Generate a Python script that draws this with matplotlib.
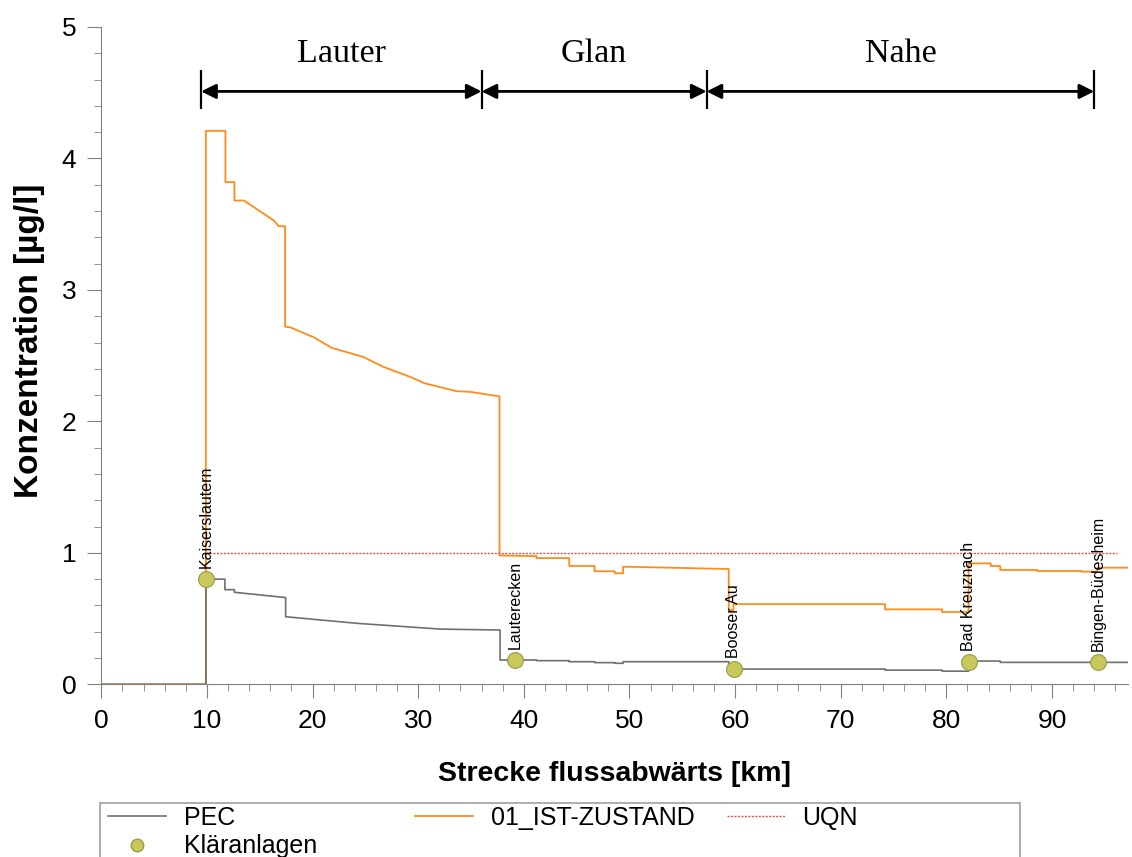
import matplotlib
matplotlib.use("Agg")
import matplotlib.pyplot as plt
from matplotlib.lines import Line2D
from matplotlib.patches import Rectangle

plt.rcParams["font.family"] = ["Liberation Sans", "DejaVu Sans"]

# PEC profile along the river (km, µg/l)
pec_km = [0, 9.9, 9.9, 11.7, 11.7, 12.6, 12.6, 17.45, 17.45, 24.2, 32.1, 37.75,
          37.75, 41.2, 41.2, 44.3, 44.3, 46.7, 46.7, 48.6, 48.6, 49.4, 49.4, 59.4,
          59.4, 74.2, 74.2, 79.6, 79.6, 82.1, 82.1, 85.1, 85.1, 97.2]
pec_val = [0, 0, 0.80, 0.80, 0.72, 0.72, 0.70, 0.66, 0.514, 0.464, 0.42, 0.413,
           0.185, 0.185, 0.18, 0.18, 0.172, 0.172, 0.165, 0.165, 0.16, 0.16, 0.172, 0.172,
           0.116, 0.116, 0.108, 0.108, 0.10, 0.10, 0.177, 0.177, 0.167, 0.167]

# scenario 01_IST-ZUSTAND
ist_km = [0, 9.9, 9.9, 11.75, 11.75, 12.6, 12.6, 13.5, 16.3, 16.8, 17.4, 17.4,
          17.9, 20.1, 21.8, 24.8, 26.7, 29.5, 30.6, 33.6, 34.9, 37.7, 37.7, 41.2,
          41.2, 44.3, 44.3, 46.7, 46.7, 48.6, 48.6, 49.4, 49.4, 59.4, 59.4, 59.85,
          59.85, 74.2, 74.2, 79.6, 79.6, 82.1, 82.1, 84.2, 84.2, 85.1, 85.1, 88.6,
          88.6, 92.8, 92.8, 94.3, 94.3, 97.2]
ist_val = [0, 0, 4.21, 4.21, 3.82, 3.82, 3.68, 3.68, 3.53, 3.485, 3.485, 2.72,
           2.715, 2.64, 2.56, 2.49, 2.415, 2.33, 2.29, 2.23, 2.225, 2.19, 0.98, 0.975,
           0.96, 0.96, 0.90, 0.90, 0.86, 0.86, 0.845, 0.845, 0.895, 0.877, 0.565, 0.565,
           0.61, 0.61, 0.57, 0.57, 0.55, 0.55, 0.92, 0.92, 0.90, 0.90, 0.87, 0.87,
           0.862, 0.862, 0.857, 0.857, 0.887, 0.887]

# environmental quality standard
uqn_km = [9.9, 96.2]
uqn_val = [1.0, 1.0]

# sewage treatment plants
ka_names = ["Kaiserslautern", "Lauterecken", "Booser Au", "Bad Kreuznach", "Bingen-Büdesheim"]
ka_km = [9.9, 39.2, 59.85, 82.1, 94.4]
ka_val = [0.80, 0.185, 0.114, 0.172, 0.167]

# river sections
rivers = ["Lauter", "Glan", "Nahe"]
river_bounds = [9.45, 36.0, 57.3, 94.0]

ORANGE = "#ff8c1a"
GRAY = "#707070"
RED = "#d9534f"
AXIS = "#808080"
KA_FACE = "#c8c85c"
KA_EDGE = "#9a9a4a"

fig = plt.figure(figsize=(11.32, 8.57), dpi=100)
ax = fig.add_axes([0.0895, 0.2015, 0.907, 0.767])

ax.plot(ist_km, ist_val, color=ORANGE, lw=1.3, zorder=2)
ax.plot(pec_km, pec_val, color=GRAY, lw=1.2, zorder=3)
ax.plot(uqn_km, uqn_val, color=RED, lw=1.0, ls=(0, (1.5, 1.0)), zorder=2)
ax.scatter(ka_km, ka_val, s=130, facecolor=KA_FACE, edgecolor=KA_EDGE,
           linewidth=0.8, zorder=4)

for name, km, val in zip(ka_names, ka_km, ka_val):
    ax.annotate(name, (km, val), xytext=(0, 8), textcoords="offset points",
                rotation=90, ha="center", va="bottom", fontsize=11.5)

# section arrows above the profile
arrow_y = 4.51
for i, name in enumerate(rivers):
    x0, x1 = river_bounds[i], river_bounds[i + 1]
    ax.annotate("", xy=(x1, arrow_y), xytext=(x0, arrow_y),
                arrowprops=dict(arrowstyle="<|-|>", color="black", lw=2,
                                mutation_scale=22, shrinkA=0, shrinkB=0))
    ax.text((x0 + x1) / 2, 4.80, name, ha="center", va="center",
            fontsize=24.5, family="Liberation Serif")
ax.vlines(river_bounds, 4.38, 4.67, color="black", lw=1.6)

ax.set_xlim(0, 97.2)
ax.set_ylim(0, 5)
ax.set_xticks(range(0, 100, 10))
ax.set_xticks(range(0, 98, 2), minor=True)
ax.set_yticks(range(0, 6))
ax.set_yticks([i * 0.2 for i in range(26)], minor=True)

for side in ["top", "right"]:
    ax.spines[side].set_visible(False)
for side in ["left", "bottom"]:
    ax.spines[side].set_color(AXIS)
ax.tick_params(which="major", length=10, color=AXIS, labelsize=19, pad=8)
ax.tick_params(which="minor", length=5, color=AXIS)

ax.set_xlabel("Strecke flussabwärts [km]", fontsize=20.5, fontweight="bold", labelpad=20)
ax.set_ylabel("Konzentration [µg/l]", fontsize=24, fontweight="bold")
ax.yaxis.set_label_coords(-0.055, 0.5225)

# legend: framed box at the bottom with three columns
fig.patches.append(Rectangle((100 / 1132, -0.05), 920 / 1132, 1 - 803 / 857 + 0.05,
                             transform=fig.transFigure, fill=False,
                             edgecolor="#a0a0a0", lw=1.2))
h_pec = Line2D([], [], color=GRAY, lw=1.2)
h_ka = Line2D([], [], ls="none", marker="o", ms=9, markerfacecolor=KA_FACE,
              markeredgecolor=KA_EDGE)
h_ist = Line2D([], [], color=ORANGE, lw=1.3)
h_uqn = Line2D([], [], color=RED, lw=1.0, ls=(0, (1.5, 1.0)))
common = dict(frameon=False, fontsize=18, handlelength=2.3, handletextpad=0.72,
              labelspacing=0.18, borderpad=0, borderaxespad=0, loc="upper left")
top = 1 - 806 / 857
fig.legend([h_pec, h_ka], ["PEC", "Kläranlagen"], bbox_to_anchor=(108 / 1132, top), **common)
fig.legend([h_ist], ["01_IST-ZUSTAND"], bbox_to_anchor=(415 / 1132, top), **common)
fig.legend([h_uqn], ["UQN"], bbox_to_anchor=(727 / 1132, top), **common)

fig.savefig("out.png", dpi=100)
